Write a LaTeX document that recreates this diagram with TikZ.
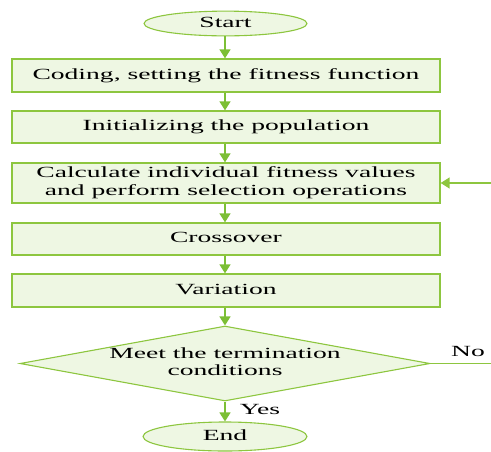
\documentclass[tikz,border=0pt]{standalone}
\usepackage{fontspec}
\setmainfont{Liberation Serif}
\usepackage{graphicx}
\usetikzlibrary{shapes.geometric,arrows.meta}
\definecolor{edgegreen}{HTML}{8DC63F}
\definecolor{fillgreen}{HTML}{EEF7E3}
\definecolor{arrowgreen}{HTML}{7CBF35}
\newcommand{\TT}[1]{\scalebox{1.78}[1]{\begin{tabular}{@{}c@{}}#1\end{tabular}}}
\tikzset{
  box/.style={draw=edgegreen, fill=fillgreen, line width=1.3pt, rectangle, minimum width=428pt, inner sep=0pt},
  term/.style={draw=edgegreen, fill=fillgreen, line width=1.1pt, ellipse, inner sep=0pt},
  decision/.style={draw=edgegreen, fill=fillgreen, line width=1.1pt, diamond, inner sep=0pt, minimum width=410pt, minimum height=75pt},
  flow/.style={draw=arrowgreen, line width=1.4pt, -{Triangle[width=11pt,length=9pt]}},
  plain/.style={draw=edgegreen, line width=1.1pt},
  lbl/.style={inner sep=0pt}
}
\begin{document}
\begin{tikzpicture}[x=1pt,y=1pt,font=\fontsize{15.5}{17.5}\selectfont]
\useasboundingbox (0,0) rectangle (491,-451);
\node[term, minimum width=163pt, minimum height=23pt] (start) at (225.5,-23.5) {\TT{Start}};
\node[box, minimum height=33pt] (b1) at (226,-75.5) {\TT{Coding, setting the fitness function}};
\node[box, minimum height=32pt] (b2) at (226,-127) {\TT{Initializing the population}};
\node[box, minimum height=40pt] (b3) at (226,-183) {\TT{Calculate individual fitness values\\and perform selection operations}};
\node[box, minimum height=32pt] (b4) at (226,-239) {\TT{Crossover}};
\node[box, minimum height=33pt] (b5) at (226,-290.5) {\TT{Variation}};
\node[decision] (d) at (225,-363.5) {};
\node[lbl] (dtext) at (d.center) {\TT{Meet the termination\\conditions}};
\node[term, minimum width=164pt, minimum height=29pt] (end) at (225,-436.5) {\TT{End}};
\coordinate (noend) at (491,-363.5);
\coordinate (backin) at (491,-183);
\draw[flow] (start.south -| 225,0) -- (b1.north -| 225,0);
\draw[flow] (b1.south -| 225,0) -- (b2.north -| 225,0);
\draw[flow] (b2.south -| 225,0) -- (b3.north -| 225,0);
\draw[flow] (b3.south -| 225,0) -- (b4.north -| 225,0);
\draw[flow] (b4.south -| 225,0) -- (b5.north -| 225,0);
\draw[flow] (b5.south -| 225,0) -- (d.north);
\draw[flow] (d.south) -- (end.north);
\draw[plain] (d.east) -- (noend);
\draw[flow, draw=edgegreen] (backin) -- (b3.east);
\node[lbl] (yes) at (260,-411) {\TT{Yes}};
\node[lbl] (no) at (468,-353) {\TT{No}};
\end{tikzpicture}
\end{document}
